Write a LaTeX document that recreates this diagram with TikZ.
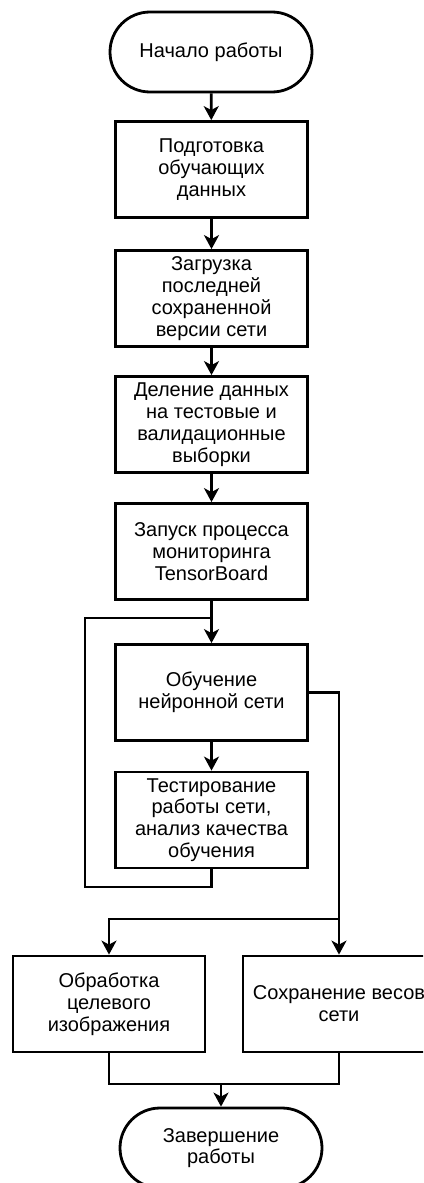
\documentclass[tikz,border=0pt]{standalone}
\usepackage{fontspec}
\setmainfont{Liberation Sans}
\usetikzlibrary{arrows.meta}
\begin{document}
\begin{tikzpicture}[x=1pt,y=-1pt,
  every node/.style={font=\fontsize{20}{21.8}\selectfont, align=center, inner sep=0pt},
  stepbox/.style={draw, line width=2.8pt, minimum width=192pt, minimum height=96pt},
  term/.style={draw, line width=2.8pt, minimum width=202pt, minimum height=80pt, rounded corners=40pt},
  line/.style={line width=2.8pt},
  arrow/.style={line width=2.8pt, -{Stealth[length=14pt,width=15pt,inset=4pt]}}]
\useasboundingbox (0,0) rectangle (423,1183);
\clip (0,0) rectangle (423,1183);
\fill[white] (0,0) rectangle (423,1183);

% main chain
\node[term] (start) at (211,52) {Начало работы};
\node[stepbox] (prep) at (211.5,169.5) {Подготовка\\обучающих\\данных};
\node[stepbox] (load) at (211.5,298.5) {Загрузка\\последней\\сохраненной\\версии сети};
\node[stepbox] (split) at (211.5,424.5) {Деление данных\\на тестовые и\\валидационные\\выборки};
\node[stepbox] (mon) at (211.5,551.5) {Запуск процесса\\мониторинга\\TensorBoard};
\node[stepbox] (train) at (211.5,692.5) {Обучение\\нейронной сети};
\node[stepbox] (test) at (211.5,820) {Тестирование\\работы сети,\\анализ качества\\обучения};
\node[stepbox] (proc) at (109,1004) {Обработка\\целевого\\изображения};
\node[stepbox] (save) at (339,1004) {Сохранение весов\\сети};
\node[term] (end) at (221,1148) {Завершение\\работы};

% helper points of the routed lines
\coordinate (join) at (211.5,618);
\coordinate (lb) at (85,887);
\coordinate (lt) at (85,618);
\coordinate (fork) at (339,919);
\coordinate (merge) at (221,1084);

\draw[arrow] (start) -- (prep);
\draw[arrow] (prep) -- (load);
\draw[arrow] (load) -- (split);
\draw[arrow] (split) -- (mon);
\draw[arrow] (mon) -- (train);
\draw[arrow] (train) -- (test);

% training loop back
\draw[line, line join=miter] (test.south) |- (lb) -- (lt) -- (join);

% branch to the two final steps
\draw[arrow] (train.east) -| (save.north);
\draw[arrow] (fork) -| (proc.north);

% merge into the end
\draw[line] (proc.south) |- (merge) -| (save.south);
\draw[arrow] (merge) -- (end);
\end{tikzpicture}
\end{document}
